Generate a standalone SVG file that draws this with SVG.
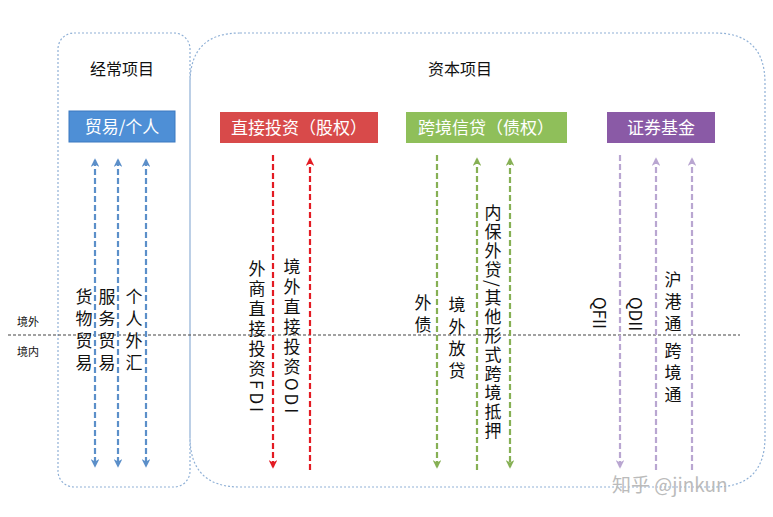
<svg xmlns="http://www.w3.org/2000/svg" width="773" height="517" viewBox="0 0 773 517">
<style>
text{font-family:"Noto Sans CJK SC","Liberation Sans",sans-serif;}
.t{font-size:16px;fill:#111}
.h{font-size:17px;fill:#fff;text-anchor:middle}
.v{font-size:17px;fill:#111;writing-mode:vertical-rl;letter-spacing:5px}
.b{stroke:#5b8fc9;stroke-width:2.2;stroke-dasharray:6 3;fill:none}
.r{stroke:#e31b23;stroke-width:2.2;stroke-dasharray:6 3;fill:none}
.g{stroke:#86b054;stroke-width:2.2;stroke-dasharray:6 3;fill:none}
.p{stroke:#b9a6d1;stroke-width:2.2;stroke-dasharray:6 3;fill:none}
.box{fill:none;stroke:#8fb0d6;stroke-width:1.2;stroke-dasharray:2 2}
</style>
<defs>
<marker id="mb" viewBox="0 0 10 10" refX="8" refY="5" markerWidth="4" markerHeight="4" orient="auto-start-reverse"><path d="M0,0L10,5L0,10L3,5z" fill="#5b8fc9"/></marker>
<marker id="mr" viewBox="0 0 10 10" refX="8" refY="5" markerWidth="4" markerHeight="4" orient="auto-start-reverse"><path d="M0,0L10,5L0,10L3,5z" fill="#e31b23"/></marker>
<marker id="mg" viewBox="0 0 10 10" refX="8" refY="5" markerWidth="4" markerHeight="4" orient="auto-start-reverse"><path d="M0,0L10,5L0,10L3,5z" fill="#86b054"/></marker>
<marker id="mp" viewBox="0 0 10 10" refX="8" refY="5" markerWidth="4" markerHeight="4" orient="auto-start-reverse"><path d="M0,0L10,5L0,10L3,5z" fill="#b9a6d1"/></marker>
</defs>
<rect width="773" height="517" fill="#fff"/>
<g id="frames">
<rect class="box" x="58" y="33" width="132" height="454" rx="16"/>
<path class="box" d="M240,33 H715 Q765,33 765,83 V437 Q765,487 715,487 H240 Q190,487 190,437 V83 Q190,33 240,33 Z"/>
<text class="t" x="122" y="75" text-anchor="middle">经常项目</text>
<text class="t" x="460" y="75" text-anchor="middle">资本项目</text>
</g>
<g id="border-line">
<line x1="8" y1="335" x2="740" y2="335" stroke="#444" stroke-width="1.2" stroke-dasharray="3 2"/>
<text x="28" y="326" font-size="11" text-anchor="middle" fill="#111">境外</text>
<text x="28" y="356" font-size="11" text-anchor="middle" fill="#111">境内</text>
</g>
<g id="node-trade"><rect x="69" y="111" width="106" height="31" fill="#4e8fd6" stroke="#3a78c0"/><text class="h" x="122" y="133">贸易/个人</text></g>
<g id="node-fdi"><rect x="220" y="112" width="158" height="31" fill="#d84a4a"/><text class="h" x="299" y="134">直接投资（股权）</text></g>
<g id="node-credit"><rect x="406" y="112" width="161" height="31" fill="#8fbf5a"/><text class="h" x="486" y="134">跨境信贷（债权）</text></g>
<g id="node-sec"><rect x="607" y="112" width="108" height="31" fill="#8a5aa6"/><text class="h" x="661" y="134">证券基金</text></g>
<g id="connectors">
<line class="b" x1="95" y1="160" x2="95" y2="466" marker-start="url(#mb)" marker-end="url(#mb)"/>
<line class="b" x1="118" y1="160" x2="118" y2="466" marker-start="url(#mb)" marker-end="url(#mb)"/>
<line class="b" x1="146" y1="160" x2="146" y2="466" marker-start="url(#mb)" marker-end="url(#mb)"/>
<line class="r" x1="273" y1="155" x2="273" y2="467" marker-end="url(#mr)"/>
<line class="r" x1="310" y1="470" x2="310" y2="159" marker-end="url(#mr)"/>
<line class="g" x1="437" y1="155" x2="437" y2="467" marker-end="url(#mg)"/>
<line class="g" x1="477" y1="470" x2="477" y2="159" marker-end="url(#mg)"/>
<line class="g" x1="510" y1="159" x2="510" y2="467" marker-start="url(#mg)" marker-end="url(#mg)"/>
<line class="p" x1="620" y1="155" x2="620" y2="467" marker-end="url(#mp)"/>
<line class="p" x1="656" y1="470" x2="656" y2="159" marker-end="url(#mp)"/>
<line class="p" x1="692" y1="470" x2="692" y2="159" marker-end="url(#mp)"/>
</g>
<g id="labels">
<text class="v" x="84" y="288">货物贸易</text>
<text class="v" x="107" y="288">服务贸易</text>
<text class="v" x="134" y="288">个人外汇</text>
<text class="v" x="257" y="260" style="letter-spacing:3px">外商直接投资FDI</text>
<text class="v" x="292" y="258" style="letter-spacing:3px">境外直接投资ODI</text>
<text class="v" x="423" y="294">外债</text>
<text class="v" x="457" y="296">境外放贷</text>
<text class="v" x="493" y="204" style="letter-spacing:2px">内保外贷/其他形式跨境抵押</text>
<text class="v" x="600" y="297" style="letter-spacing:0">QFII</text>
<text class="v" x="636" y="297" style="letter-spacing:0">QDII</text>
<text class="v" x="673" y="271">沪港通</text>
<text class="v" x="673" y="342">跨境通</text>
</g>
<text x="612" y="492" font-size="19" fill="#bbb">知乎 @jinkun</text>
</svg>
